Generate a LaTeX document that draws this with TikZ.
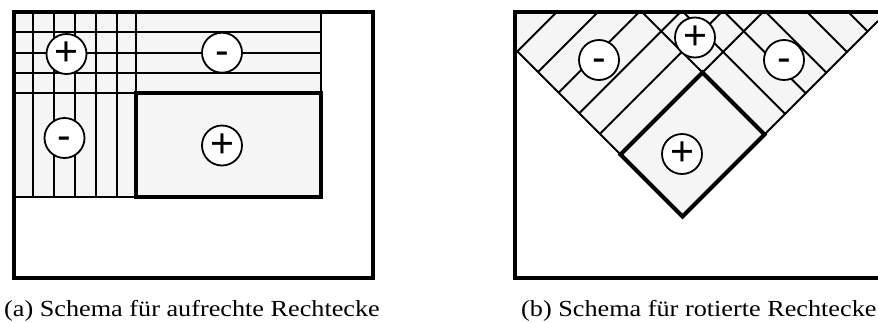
\documentclass[tikz,border=0pt]{standalone}
\usepackage{graphicx}
\usepackage{fontspec}
\setmainfont{Liberation Serif}
\newfontfamily\signfont{Liberation Sans}
\definecolor{lightfill}{RGB}{245,245,245}
\begin{document}
\begin{tikzpicture}[x=1pt,y=-1pt,
  thinline/.style={line width=2pt},
  thickline/.style={line width=4pt},
  sign/.style={circle,draw,fill=white,line width=1.8pt,minimum size=40pt,inner sep=0pt,
    font=\signfont\fontsize{41}{41}\selectfont},
  caption/.style={anchor=base west,inner sep=0pt,font=\fontsize{23}{23}\selectfont}]
\useasboundingbox (0,0) rectangle (878,322);
% ---------- left panel: upright rectangles ----------
\fill[lightfill] (14,12) rectangle (321,197);
\foreach \x in {33,54,75,96,117} \draw[thinline] (\x,12) -- (\x,197);
\draw[thinline] (136,12) -- (136,93);
\foreach \y in {32.25,52.5,72.75} \draw[thinline] (14,\y) -- (321,\y);
\draw[thinline] (14,93) -- (136,93);
\draw[thinline] (321,12) -- (321,93);
\draw[thinline] (14,197) -- (136,197);
\draw[thickline] (136,93) rectangle (321,197);
\draw[thickline] (14,12) rectangle (372.5,278);
\node[sign] (lp1) at (66.5,54) {+};
\node[sign] (lm1) at (222,52.7) {\vphantom{+}-};
\node[sign] (lm2) at (64.5,138) {\vphantom{+}-};
\node[sign] (lp2) at (222,145.5) {+};
% ---------- right panel: rotated rectangles ----------
\fill[lightfill] (515,12) -- (878,12) -- (878,21) -- (682.5,216.5) -- (515,49) -- cycle;
\foreach \p in {568.75,610,651.25,692.5,733.75}
  \draw[thinline] ({(\p+466)/2},{(\p-466)/2}) -- ({\p-12},12);
\draw[thinline] (702.5,72.5) -- (763,12);
\foreach \c in {630,671.25,712.5,753.75,795,836.25}
  \draw[thinline] ({\c+12},12) -- ({(899+\c)/2},{(899-\c)/2});
\draw[thinline] (515,49) -- (620.5,154.5);
\draw[thinline] (878,21) -- (764.5,134.5);
\draw[thickline] (620.5,154.5) -- (702.5,72.5) -- (764.5,134.5) -- (682.5,216.5) -- cycle;
\draw[thickline] (878,12) -- (515,12) -- (515,278) -- (878,278);
\node[sign] (rm1) at (599,60) {\vphantom{+}-};
\node[sign] (rp1) at (695,37.5) {+};
\node[sign] (rm2) at (784,60) {\vphantom{+}-};
\node[sign] (rp2) at (682,154) {+};
% ---------- captions ----------
\node[caption] (capa) at (4,316) {\scalebox{1.14}[1]{(a) Schema für aufrechte Rechtecke}};
\node[caption] (capb) at (521,316) {\scalebox{1.14}[1]{(b) Schema für rotierte Rechtecke}};
\end{tikzpicture}
\end{document}
